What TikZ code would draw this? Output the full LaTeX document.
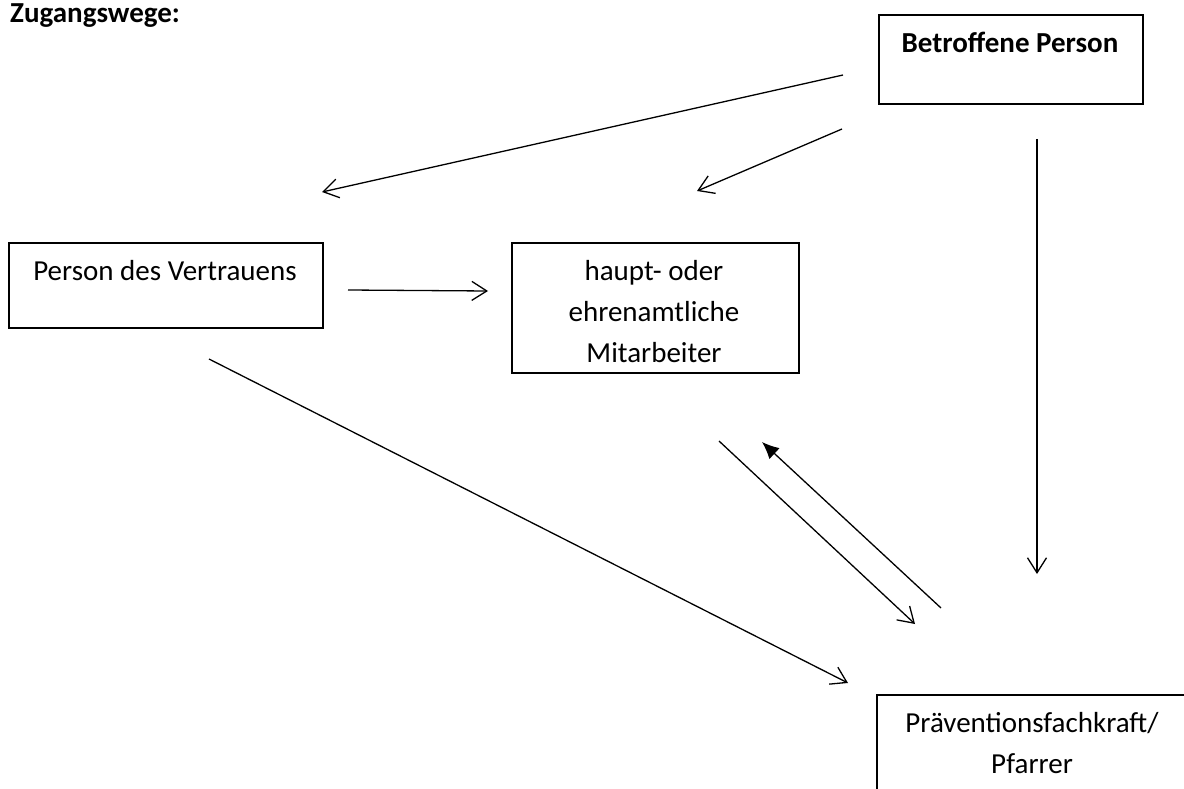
\documentclass[tikz,border=0pt]{standalone}
\usepackage{fontspec}
\setmainfont{Carlito}
\usetikzlibrary{arrows.meta}
\begin{document}
\begin{tikzpicture}[x=1pt,y=-1pt,
  box/.style={draw, line width=1.6pt, rectangle, inner sep=0pt, anchor=north west},
  txt/.style={font=\fontsize{29}{41}\selectfont, inner sep=0pt, align=center},
  conn/.style={line width=1.3pt, -{Straight Barb[length=15pt,width=19pt,line width=1.3pt]}},
  fconn/.style={line width=1.3pt, -{Latex[length=17pt,width=15pt]}}]
\useasboundingbox (0,0) rectangle (1184,789);
\clip (0,0) rectangle (1184,789);
% title
\node[txt, font=\fontsize{29}{41}\selectfont\bfseries, anchor=base west] (title) at (10,23) {Zugangswege:};
% boxes
\node[box, minimum width=264pt, minimum height=89pt] (bp) at (878,14) {};
\node[txt, font=\fontsize{29}{41}\selectfont\bfseries, anchor=base] (bpt) at (1010,53) {Betroffene Person};
\node[box, minimum width=314pt, minimum height=85pt] (pv) at (8,242) {};
\node[txt, anchor=base] (pvt) at (165,280) {Person des Vertrauens};
\node[box, minimum width=287pt, minimum height=130pt] (hm) at (511,242) {};
\node[txt, anchor=base] (hmt) at (654,362) {haupt- oder\\ehrenamtliche\\Mitarbeiter};
\node[box, minimum width=340pt, minimum height=130pt] (pf) at (876,694) {};
\node[txt, anchor=base] (pft) at (1032,773) {Präventionsfachkraft/\\Pfarrer};
% connector end points
\coordinate (a1s) at (843,75);   \coordinate (a1e) at (322,192);
\coordinate (a2s) at (842,129);  \coordinate (a2e) at (697,191);
\coordinate (a3s) at (1037,139); \coordinate (a3e) at (1037,574);
\coordinate (a4s) at (348,290);  \coordinate (a4e) at (488,291);
\coordinate (a5s) at (209,359);  \coordinate (a5e) at (848,683);
\coordinate (a6s) at (719,441);  \coordinate (a6e) at (915,624);
\coordinate (a7s) at (941,608);  \coordinate (a7e) at (762,442);
\draw[conn] (a1s) -- (a1e);
\draw[conn] (a2s) -- (a2e);
\draw[conn] (a3s) -- (a3e);
\draw[conn] (a4s) -- (a4e);
\draw[conn] (a5s) -- (a5e);
\draw[conn] (a6s) -- (a6e);
\draw[fconn] (a7s) -- (a7e);
\end{tikzpicture}
\end{document}
